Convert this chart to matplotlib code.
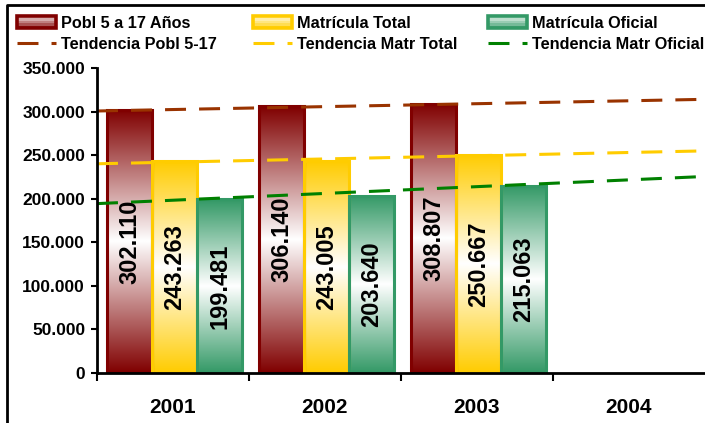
import numpy as np
import matplotlib
matplotlib.use("Agg")
import matplotlib.pyplot as plt
from matplotlib import font_manager as fm
from matplotlib.colors import LinearSegmentedColormap, to_rgb
from matplotlib.patches import Rectangle
from matplotlib.lines import Line2D
from matplotlib.legend_handler import HandlerBase

# ---- data ----
years = ["2001", "2002", "2003", "2004"]
pobl = [302110, 306140, 308807]
matr_total = [243263, 243005, 250667]
matr_oficial = [199481, 203640, 215063]
series_names = ["Pobl 5 a 17 Años", "Matrícula Total", "Matrícula Oficial"]
trend_names = ["Tendencia Pobl 5-17", "Tendencia Matr Total", "Tendencia Matr Oficial"]
y_ticks = [0, 50000, 100000, 150000, 200000, 250000, 300000, 350000]

# ---- styles ----
bar_colors = ["#800000", "#FFCC00", "#339966"]
trend_colors = ["#993300", "#FFCC00", "#008000"]

plt.rcParams["font.family"] = ["Liberation Sans", "DejaVu Sans"]
plt.rcParams["lines.scale_dashes"] = False

# legend font: a narrow face if available, else regular face sized to match widths
_names = {f.name for f in fm.fontManager.ttflist}
if "Liberation Sans Narrow" in _names:
    leg_prop = dict(family=["Liberation Sans Narrow", "DejaVu Sans"], size=14, weight="bold")
    leg_fs_px = 14 / 72 * 100
else:
    leg_prop = dict(family=["Liberation Sans", "DejaVu Sans"], size=11.7, weight="bold")
    leg_fs_px = 11.7 / 72 * 100

W, H = 705, 423
fig = plt.figure(figsize=(W / 100, H / 100), dpi=100)
ax = fig.add_axes([97 / W, 50 / H, 608 / W, 305 / H])


def fmt(v):
    return f"{v:,.0f}".replace(",", ".")


series = [pobl, matr_total, matr_oficial]
x = np.arange(1, len(pobl) + 1)
width = 0.296
shift = 0.012
offsets = [-width, 0.0, width]
grad = np.linspace(0, 1, 256).reshape(-1, 1)

for vals, col, off in zip(series, bar_colors, offsets):
    cmap = LinearSegmentedColormap.from_list("g", [col, "white", col])
    for xi, v in zip(x, vals):
        x0 = xi + off + shift - width / 2
        ax.imshow(grad, extent=[x0, x0 + width, 0, v], aspect="auto",
                  cmap=cmap, origin="lower", zorder=1, interpolation="bilinear")
    ax.bar(x + off + shift, vals, width, facecolor="none", edgecolor=col,
           linewidth=2.2, zorder=2)
    for xi, v in zip(x, vals):
        ax.text(xi + off + shift, v / 2, fmt(v), rotation=90, ha="center",
                va="center", fontsize=17, fontweight="bold", zorder=5)

# trend lines (linear fit, extended one period forward)
xx = np.array([0.5, len(years) + 0.5])
for vals, col in zip(series, trend_colors):
    coef = np.polyfit(x, vals, 1)
    ax.plot(xx, np.polyval(coef, xx), color=col, lw=2.2, dashes=(15.1, 9.4),
            dash_capstyle="butt", zorder=3)

ax.set_xlim(0.5, len(years) + 0.5)
ax.set_ylim(0, 350000)

ax.set_xticks(np.arange(0.5, len(years), 1.0))
ax.set_xticklabels([])
ax.set_xticks(np.arange(1, len(years) + 1), minor=True)
ax.set_xticklabels(years, minor=True, fontsize=15, fontweight="bold")
ax.tick_params(axis="x", which="major", length=5.8, width=1.5, direction="out")
ax.tick_params(axis="x", which="minor", length=0, pad=18)

ax.set_yticks(y_ticks)
ax.set_yticklabels([fmt(v) for v in y_ticks], fontsize=12.5, fontweight="bold")
ax.tick_params(axis="y", length=4.3, width=1.5, pad=4.3)

for s in ["top", "right"]:
    ax.spines[s].set_visible(False)
for s in ["left", "bottom"]:
    ax.spines[s].set_linewidth(2)
    ax.spines[s].set_zorder(6)

# outer frame (left and top)
fig.add_artist(Line2D([7 / W, 7 / W, 1.01], [-0.01, 1 - 5.5 / H, 1 - 5.5 / H],
                      color="black", lw=2, transform=fig.transFigure))


# ---- legend ----
class GradHandler(HandlerBase):
    def create_artists(self, legend, orig_handle, xdescent, ydescent, width,
                       height, fontsize, trans):
        col = to_rgb(orig_handle.get_edgecolor())
        arts = []
        n = 5
        for i in range(n):
            t = i / (n - 1)
            c = tuple(1 - (1 - ci) * (0.15 + 0.7 * (1 - t)) for ci in col)
            r = Rectangle((-xdescent, -ydescent + i * height / n), width,
                          height / n, facecolor=c, edgecolor="none",
                          transform=trans)
            arts.append(r)
        arts.append(Rectangle((-xdescent, -ydescent), width, height,
                              facecolor="none", edgecolor=col, lw=2.6,
                              transform=trans))
        return arts


leg_x = [17, 253, 488]
for i in range(3):
    hb = Rectangle((0, 0), 1, 1, edgecolor=bar_colors[i], facecolor="none")
    hl = Line2D([], [], color=trend_colors[i], lw=2.2, dashes=(15.1, 9.4))
    leg = fig.legend([hb, hl], [series_names[i], trend_names[i]],
                     loc="upper left",
                     bbox_to_anchor=(leg_x[i] / W, 1 - 15.5 / H),
                     bbox_transform=fig.transFigure, frameon=False,
                     borderpad=0, borderaxespad=0,
                     handlelength=39 / leg_fs_px,
                     handleheight=13 / leg_fs_px,
                     handletextpad=5 / leg_fs_px,
                     labelspacing=6.5 / leg_fs_px,
                     handler_map={Rectangle: GradHandler()},
                     prop=leg_prop)

fig.savefig("out.png", dpi=100)
